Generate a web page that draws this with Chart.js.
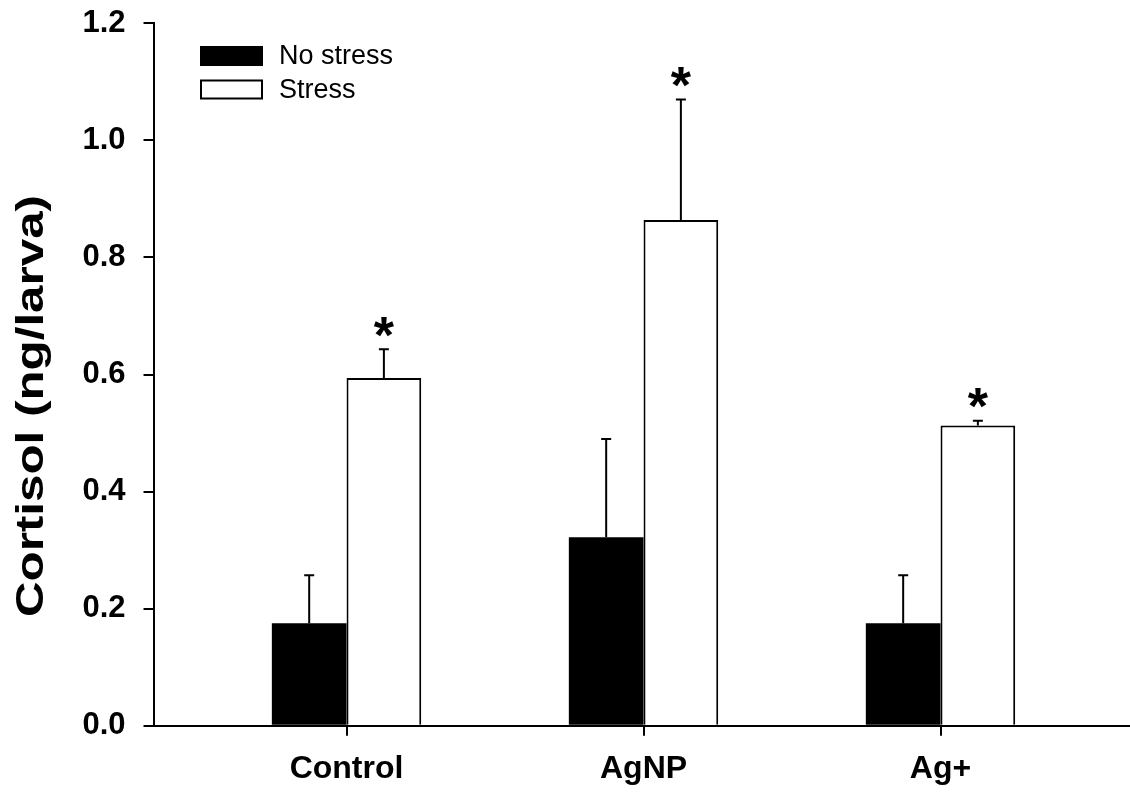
<!DOCTYPE html>
<html>
<head>
<meta charset="utf-8">
<script src="https://cdn.jsdelivr.net/npm/chart.js@4"></script>
<style>
  html, body { margin: 0; padding: 0; background: #fff; overflow: hidden; }
</style>
</head>
<body>
<canvas id="cortisolChart" width="1130" height="793"></canvas>
<script>
var groups = ['Control', 'AgNP', 'Ag+'];
var seriesNames = ['No stress', 'Stress'];
var noStress = [0.175, 0.322, 0.175];
var noStressErr = [0.082, 0.168, 0.082];
var stress = [0.594, 0.864, 0.513];
var stressErr = [0.049, 0.206, 0.008];
var stressMarks = ['*', '*', '*'];
var yTicks = [0.0, 0.2, 0.4, 0.6, 0.8, 1.0, 1.2];
var yTitle = 'Cortisol (ng/larva)';

var FONT = "'Liberation Sans', Arial, Helvetica, sans-serif";

function points(vals) {
    return vals.map(function(v, i) { return {x: i, y: v}; });
}

// error bars (upward only) and significance marks
var errorBars = {
    id: 'errorBars',
    afterDatasetsDraw: function(chart) {
        var ctx = chart.ctx;
        var y = chart.scales.y;
        chart.data.datasets.forEach(function(ds, di) {
            var meta = chart.getDatasetMeta(di);
            meta.data.forEach(function(bar, i) {
                var top = y.getPixelForValue(ds.data[i].y + ds.errors[i]);
                ctx.save();
                ctx.strokeStyle = '#000';
                ctx.lineWidth = 2;
                ctx.beginPath();
                ctx.moveTo(bar.x, bar.y);
                ctx.lineTo(bar.x, top);
                ctx.moveTo(bar.x - 5, top);
                ctx.lineTo(bar.x + 5, top);
                ctx.stroke();
                if (ds.marks && ds.marks[i]) {
                    var fs = 52;
                    ctx.fillStyle = '#000';
                    ctx.font = 'bold ' + fs + 'px ' + FONT;
                    ctx.textAlign = 'center';
                    ctx.textBaseline = 'alphabetic';
                    ctx.fillText(ds.marks[i], bar.x, top - 26 + 0.57 * fs);
                }
                ctx.restore();
            });
        });
    }
};

// legend inside the plot + rotated y title
var extras = {
    id: 'extras',
    afterDraw: function(chart) {
        var ctx = chart.ctx;
        ctx.save();
        chart.data.datasets.forEach(function(ds, i) {
            var bx = 200, by = 46 + i * 33.5;
            ctx.fillStyle = ds.backgroundColor;
            ctx.fillRect(bx, by, 63, 20);
            ctx.strokeStyle = '#000';
            ctx.lineWidth = 2;
            ctx.strokeRect(bx + 1, by + 1, 61, 18);
            ctx.fillStyle = '#000';
            ctx.font = '27px ' + FONT;
            ctx.textAlign = 'left';
            ctx.textBaseline = 'middle';
            ctx.fillText(ds.label, 279, by + 11);
        });

        ctx.font = 'bold 38px ' + FONT;
        var w = ctx.measureText(yTitle).width;
        ctx.translate(32.5, 406);
        ctx.rotate(-Math.PI / 2);
        ctx.scale(422 / w, 1);
        ctx.textAlign = 'center';
        ctx.textBaseline = 'middle';
        ctx.fillStyle = '#000';
        ctx.fillText(yTitle, 0, 0);
        ctx.restore();
    }
};

var ctx = document.getElementById('cortisolChart');

var cortisolChart = new Chart(ctx, {
    type: 'bar',
    data: {
        datasets: [{
            label: seriesNames[0],
            data: points(noStress),
            errors: noStressErr,
            backgroundColor: '#000',
            borderColor: '#000',
            borderWidth: 0
        }, {
            label: seriesNames[1],
            data: points(stress),
            errors: stressErr,
            marks: stressMarks,
            backgroundColor: '#fff',
            borderColor: '#000',
            borderWidth: 2
        }]
    },
    options: {
        responsive: false,
        animation: false,
        categoryPercentage: 0.503,
        barPercentage: 1,
        layout: { padding: { top: 23.3, right: 0, left: 0, bottom: 0 } },
        plugins: {
            legend: { display: false },
            tooltip: { enabled: false }
        },
        scales: {
            x: {
                type: 'linear',
                offset: false,
                min: -0.65,
                max: 2.638,
                afterBuildTicks: function(scale) {
                    scale.ticks = groups.map(function(g, i) { return {value: i}; });
                },
                afterFit: function(scale) {
                    scale.height = 67.3;
                    scale.paddingLeft = 0;
                    scale.paddingRight = 0;
                },
                grid: { offset: false, drawOnChartArea: false, drawTicks: true, tickLength: 10, color: '#000', lineWidth: 2 },
                border: { display: true, color: '#000', width: 2 },
                ticks: {
                    padding: 14,
                    color: '#000',
                    font: { family: FONT, size: 32, weight: 'bold' },
                    callback: function(v) { return groups[v]; }
                }
            },
            y: {
                min: 0,
                max: 1.2,
                afterBuildTicks: function(scale) {
                    scale.ticks = yTicks.map(function(v) { return {value: v}; });
                },
                afterFit: function(scale) {
                    scale.width = 153.5;
                    scale.paddingTop = 0;
                    scale.paddingBottom = 0;
                },
                grid: { drawOnChartArea: false, drawTicks: true, tickLength: 10, color: '#000', lineWidth: 2 },
                border: { display: true, color: '#000', width: 2 },
                ticks: {
                    padding: 18,
                    color: '#000',
                    font: { family: FONT, size: 31, weight: 'bold' },
                    callback: function(v) { return v.toFixed(1); }
                }
            }
        }
    },
    plugins: [errorBars, extras]
});
</script>
</body>
</html>
